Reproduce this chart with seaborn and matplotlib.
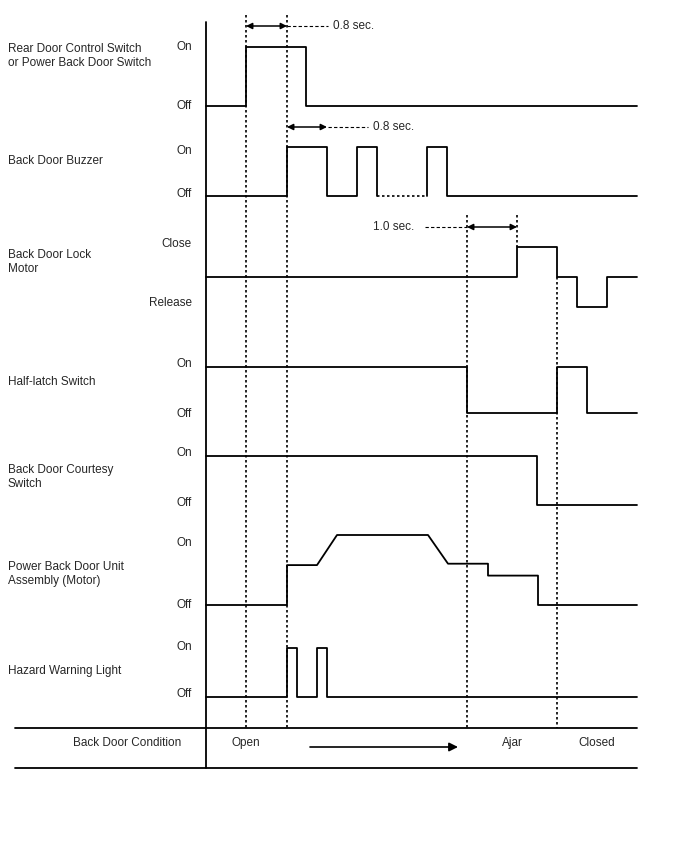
import matplotlib
matplotlib.use("Agg")
import matplotlib.pyplot as plt
import seaborn as sns

# time axis (chart x units) and signal levels (0 = off/neutral, 1 = on)
switch_t = [206, 246, 246, 306, 306, 637]
switch_v = [0, 0, 1, 1, 0, 0]

buzzer_t = [206, 287, 287, 327, 327, 357, 357, 377, 377]
buzzer_v = [0, 0, 1, 1, 0, 0, 1, 1, 0]
buzzer_gap_t = [377, 427]
buzzer_t2 = [427, 427, 447, 447, 637]
buzzer_v2 = [0, 1, 1, 0, 0]

lock_t = [206, 517, 517, 557, 557, 577, 577, 607, 607, 637]
lock_v = [0, 0, 1, 1, 0, 0, -1, -1, 0, 0]

halflatch_t = [206, 467, 467, 557, 557, 587, 587, 637]
halflatch_v = [1, 1, 0, 0, 1, 1, 0, 0]

courtesy_t = [206, 537, 537, 637]
courtesy_v = [1, 1, 0, 0]

motor_t = [206, 287, 287, 317, 337, 428, 448, 488, 488, 538, 538, 637]
motor_v = [0, 0, 0.57, 0.57, 1.0, 1.0, 0.59, 0.59, 0.42, 0.42, 0, 0]

hazard_t = [206, 287, 287, 297, 297, 317, 317, 327, 327, 637]
hazard_v = [0, 0, 1, 1, 0, 0, 1, 1, 0, 0]

signal_names = ["Rear Door Control Switch\nor Power Back Door Switch",
                "Back Door Buzzer", "Back Door Lock\nMotor", "Half-latch Switch",
                "Back Door Courtesy\nSwitch", "Power Back Door Unit\nAssembly (Motor)",
                "Hazard Warning Light"]
name_y = [56, 161, 262, 382, 477, 574, 671]
# (label, y) for level labels
level_labels = [("On", 47), ("Off", 106), ("On", 151), ("Off", 194), ("Close", 244),
                ("Release", 303), ("On", 364), ("Off", 414), ("On", 453), ("Off", 503),
                ("On", 543), ("Off", 605), ("On", 647), ("Off", 694)]

# rows: (off y, on y)
rows = {"switch": (106, 47), "buzzer": (196, 147), "lock": (277, 247),
        "halflatch": (413, 367), "courtesy": (505, 456), "motor": (605, 535),
        "hazard": (697, 648)}

conditions = ["Open", "Ajar", "Closed"]
condition_x = [246, 512, 597]

sns.set_style("white")
plt.rcParams["font.family"] = ["Liberation Sans", "DejaVu Sans"]
FS = 8.5

fig = plt.figure(figsize=(6.88, 8.52), dpi=100)
ax = fig.add_axes([0, 0, 1, 1])
ax.set_xlim(0, 688)
ax.set_ylim(852, 0)
ax.axis("off")


def to_y(key, vals):
    off, on = rows[key]
    return [off - v * (off - on) for v in vals]


lw = 1.3
for key, t, v in [("switch", switch_t, switch_v), ("buzzer", buzzer_t, buzzer_v),
                  ("buzzer", buzzer_t2, buzzer_v2), ("lock", lock_t, lock_v),
                  ("halflatch", halflatch_t, halflatch_v), ("courtesy", courtesy_t, courtesy_v),
                  ("motor", motor_t, motor_v), ("hazard", hazard_t, hazard_v)]:
    sns.lineplot(x=t, y=to_y(key, v), ax=ax, color="black", lw=lw,
                 estimator=None, sort=False)

# dotted segment of buzzer
ax.plot(buzzer_gap_t, to_y("buzzer", [0, 0]), color="black", lw=1.2, ls=(0, (1.5, 1.5)))

# dotted time markers
dot = dict(color="black", lw=1.2, ls=(0, (1.5, 1.5)))
ax.plot([246, 246], [15, 728], **dot)
ax.plot([287, 287], [15, 728], **dot)
ax.plot([467, 467], [215, 728], **dot)
ax.plot([517, 517], [215, 247], **dot)
ax.plot([557, 557], [277, 728], **dot)

# interval arrows
arrow = dict(arrowstyle="<|-|>", color="black", lw=1.1, mutation_scale=9, shrinkA=0, shrinkB=0)
dash = dict(color="black", lw=0.8, ls=(0, (3, 2)))
ax.annotate("", xy=(246, 26), xytext=(287, 26), arrowprops=arrow)
ax.plot([287, 328], [26, 26], **dash)
ax.text(333, 26, "0.8 sec.", fontsize=FS, va="center", ha="left")

ax.annotate("", xy=(287, 127), xytext=(327, 127), arrowprops=arrow)
ax.plot([328, 368], [127, 127], **dash)
ax.text(373, 127, "0.8 sec.", fontsize=FS, va="center", ha="left")

ax.annotate("", xy=(467, 227), xytext=(517, 227), arrowprops=arrow)
ax.plot([425, 467], [227, 227], **dash)
ax.text(373, 227, "1.0 sec.", fontsize=FS, va="center", ha="left")

# frame lines
ax.plot([206, 206], [22, 768], color="black", lw=1.3)
ax.plot([15, 637], [728, 728], color="black", lw=1.3)
ax.plot([15, 637], [768, 768], color="black", lw=1.3)

# labels
for name, y in zip(signal_names, name_y):
    ax.text(8, y, name, fontsize=FS, va="center", ha="left", linespacing=1.15)
for lab, y in level_labels:
    ax.text(192, y, lab, fontsize=FS, va="center", ha="right")

ax.text(127, 743, "Back Door Condition", fontsize=FS, va="center", ha="center")
for c, x in zip(conditions, condition_x):
    ax.text(x, 743, c, fontsize=FS, va="center", ha="center")
ax.annotate("", xy=(458, 747), xytext=(310, 747),
            arrowprops=dict(arrowstyle="-|>", color="black", lw=1.2, mutation_scale=13,
                            shrinkA=0, shrinkB=0))

fig.savefig("out.png", dpi=100)
